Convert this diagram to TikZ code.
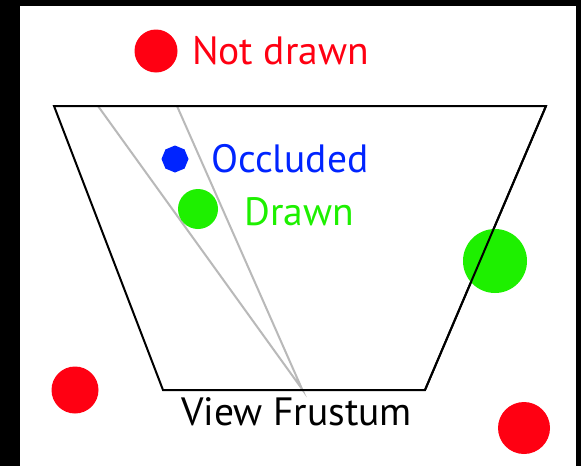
\documentclass[tikz,border=0pt]{standalone}
\usepackage{fontspec}
\setmainfont{PT Sans}
\usetikzlibrary{shapes.geometric}
\definecolor{cred}{RGB}{255,0,18}
\definecolor{cblue}{RGB}{0,36,255}
\definecolor{cgreen}{RGB}{30,240,0}
\definecolor{cgray}{RGB}{185,185,185}
\tikzset{
  lbl/.style={anchor=base west, inner sep=0pt, font=\fontsize{39.5}{42}\selectfont},
  frust/.style={draw=black, line width=2pt, line join=miter},
  ray/.style={draw=cgray, line width=2pt},
}
\begin{document}
\begin{tikzpicture}[x=1pt,y=-1pt]
\useasboundingbox (0,0) rectangle (581,466);
\fill[black] (0,0) rectangle (581,466);
\fill[white] (20,6) rectangle (576,466);
% frustum
\coordinate (tl) at (54,106);
\coordinate (tr) at (546,106);
\coordinate (br) at (425,390);
\coordinate (bl) at (163,390);
\coordinate (r1) at (98,106);
\coordinate (r2) at (177,106);
\coordinate (eye) at (302,389);
\draw[ray] (r1) -- (eye) -- (r2);
\draw[frust] (tl) -- (tr) -- (br) -- (bl) -- cycle;
% objects
\fill[cred] (156,51) circle (21.5);
\fill[cred] (75,390) circle (23.5);
\fill[cred] (524,428) circle (26);
\fill[cgreen] (198,209) circle (20);
\fill[cgreen] (495,261) circle (32);
\draw[frust] (br) -- (tr);
\node[regular polygon, regular polygon sides=8, fill=cblue, minimum size=27pt, inner sep=0pt, shape border rotate=22.5] (occ) at (175,159) {};
% labels
\node[lbl, text=cred] (nd) at (192,64) {Not drawn};
\node[lbl, text=cblue] (oc) at (211,172) {Occluded};
\node[lbl, text=cgreen] (dr) at (244,225) {Drawn};
\node[lbl, text=black] (vf) at (181,425) {View Frustum};
\end{tikzpicture}
\end{document}
